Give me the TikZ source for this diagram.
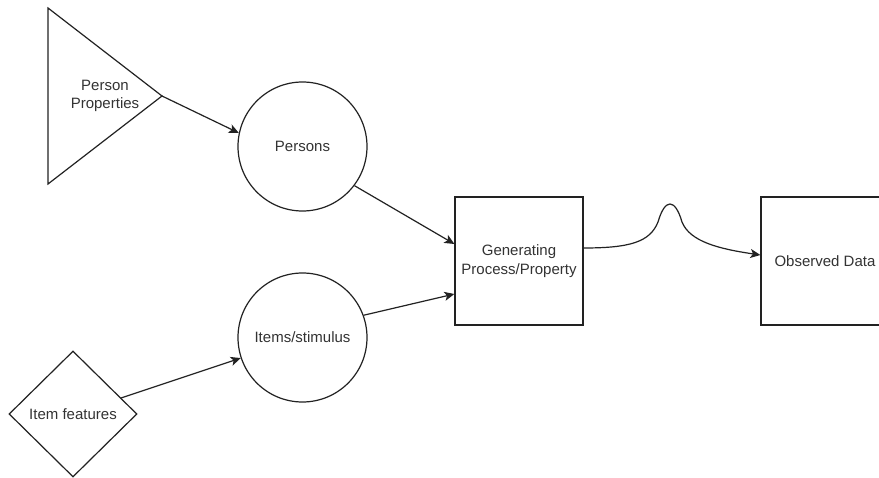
\documentclass[tikz,border=0pt]{standalone}
\usepackage{fontspec}
\setmainfont{Liberation Sans}
\usetikzlibrary{shapes.geometric,arrows.meta,calc}

\definecolor{ink}{HTML}{222222}
\definecolor{txt}{HTML}{333333}

\tikzset{
  base/.style={draw=ink, line width=1.2pt, text=txt, align=center,
               font=\fontsize{15}{18.5}\selectfont, inner sep=0pt},
  roundnode/.style={base, circle, minimum size=129pt},
  boxnode/.style={base, rectangle, minimum width=128pt, minimum height=128pt},
  diamondnode/.style={base, diamond, minimum width=128pt, minimum height=126pt},
  label/.style={text=txt, align=center, font=\fontsize{15}{18.5}\selectfont, inner sep=0pt},
  link/.style={draw=ink, line width=1.2pt,
               -{Stealth[length=10pt,width=9pt,inset=2.5pt]}}
}

\begin{document}
\begin{tikzpicture}[x=1pt,y=-1pt]
  \useasboundingbox (0,0) rectangle (879,478);
  \clip (0,0) rectangle (879,478);
  \fill[white] (0,0) rectangle (879,478);

  % source triangle for person properties
  \draw[draw=ink, line width=1.2pt, line join=miter] (48,8) -- (162,96) -- (48,184) -- cycle;
  \coordinate (ppapex) at (162,96);
  \node[label] (pp) at (105,96) {Person\\Properties};

  % main entities
  \node[roundnode] (persons) at (302.5,146.5) {Persons};
  \node[roundnode] (items) at (302.5,337.5) {Items/stimulus};
  \node[diamondnode] (features) at (73,414) {Item features};
  \node[boxnode] (gp) at (519,261) {Generating\\Process/Property};
  \node[boxnode] (od) at (825,261) {Observed Data};

  % connectors
  \draw[link] (ppapex) -- (persons.168);
  \draw[link] (features) -- (items);
  \draw[link] (persons.-37) -- ([yshift=17pt]gp.west);
  \draw[link] (items.20) -- ([yshift=-33pt]gp.west);
  \draw[link] ([yshift=13pt]gp.east)
      .. controls (630,248) and (650,242) .. (658,222)
      .. controls (665,198) and (675,198) .. (682,222)
      .. controls (690,242) and (720,249) .. ([yshift=6pt]od.west);
\end{tikzpicture}
\end{document}
